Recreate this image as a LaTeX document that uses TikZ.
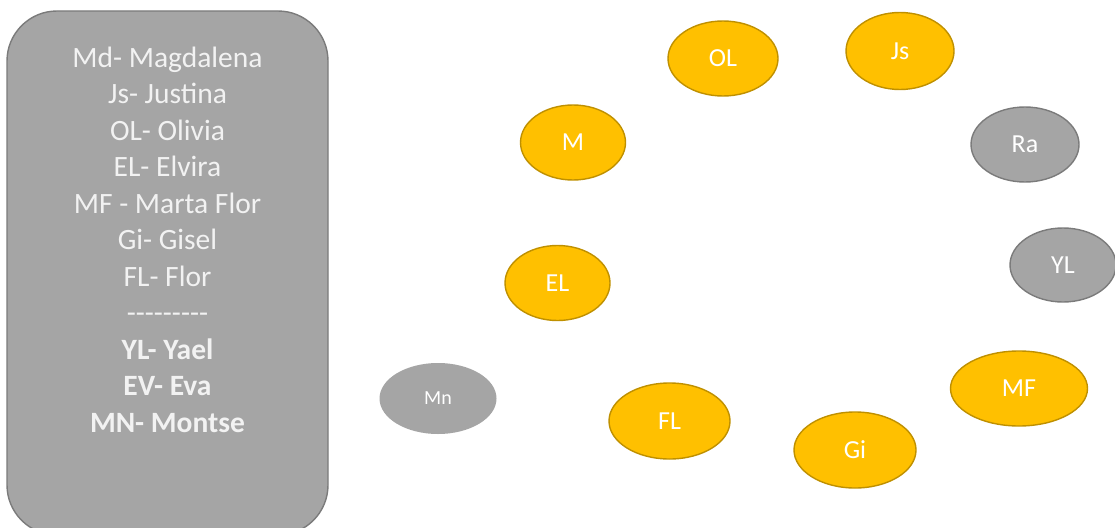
\documentclass[tikz,border=0pt]{standalone}
\usepackage{fontspec}
\setmainfont{Carlito}
\usetikzlibrary{shapes}

\definecolor{oro}{HTML}{FFC000}
\definecolor{orodark}{HTML}{BF9000}
\definecolor{gris}{HTML}{A5A5A5}
\definecolor{grisdark}{HTML}{7B7B7B}
\definecolor{blanco}{HTML}{F2F2F2}
\newcommand\guiones{\foreach \g in {1,...,9}{\mbox{-}}}

\begin{document}
\begin{tikzpicture}[x=1pt, y=-1pt,
    amiga/.style={ellipse, fill=oro, draw=orodark, line width=1.4pt, inner sep=0pt,
        text=white, font=\fontsize{26}{30}\selectfont},
    otra/.style={ellipse, fill=gris, draw=grisdark, line width=1.4pt, inner sep=0pt,
        text=white, font=\fontsize{26}{30}\selectfont}]
        \useasboundingbox (0,0) rectangle (1115,527);
        \begin{scope}
        \clip (0,0) rectangle (1115,527);
        \filldraw[fill=gris, draw=grisdark, line width=1.4pt, rounded corners=50pt] 
        (7,11) rectangle (328,535);
        \end{scope}
        % leyenda
        \foreach \txt [count=\i] in {Md- Magdalena, Js- Justina, OL- Olivia, EL- Elvira,
            MF - Marta Flor, Gi- Gisel, FL- Flor, \guiones, \textbf{YL- Yael},
            \textbf{EV- Eva}, \textbf{MN- Montse}}
        \node[anchor=base, text=blanco, font=\fontsize{29.5}{34}\selectfont, inner sep=0pt]
        (linea\i) at (167.5, {67+36.5*(\i-1)}) {\txt};
        % ronda
        \node[amiga, minimum width=110pt, minimum height=75pt] (OL) at (723,58.5) {OL};
        \node[amiga, minimum width=108pt, minimum height=77pt] (Js) at (900,51) {Js};
        \node[amiga, minimum width=105pt, minimum height=75pt] (M) at (573,142.5) {M};
        \node[otra, minimum width=108pt, minimum height=75pt] (Ra) at (1025,144.5) {Ra};
        \node[amiga, minimum width=105pt, minimum height=75pt] (EL) at (557.5,283) {EL};
        \node[otra, minimum width=106pt, minimum height=74pt] (YL) at (1063,265) {YL};
        \node[otra, draw=none, minimum width=117pt, minimum height=71pt,
        font=\fontsize{20}{24}\selectfont] (Mn) at (438,398.5) {Mn};
        \node[amiga, minimum width=121pt, minimum height=76pt] (FL) at (669.5,421) {FL};
        \node[amiga, minimum width=122pt, minimum height=76pt] (Gi) at (855,450) {Gi};
        \node[amiga, minimum width=137pt, minimum height=75pt] (MF) at (1019,388.5) {MF};
    \end{tikzpicture}
\end{document}
